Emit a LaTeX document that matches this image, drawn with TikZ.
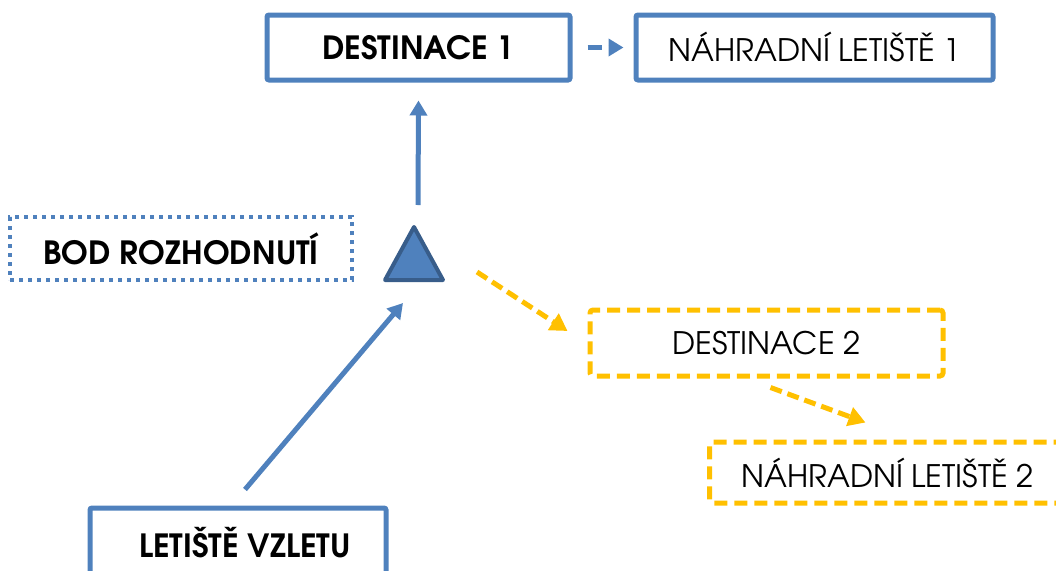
\documentclass[tikz,border=0pt]{standalone}
\usepackage{fontspec}
\setmainfont{TeX Gyre Adventor}
\usetikzlibrary{arrows.meta,calc}
\definecolor{cblue}{HTML}{4F81BD}
\definecolor{cdark}{HTML}{385D8A}
\definecolor{cyel}{HTML}{FFC000}
\tikzset{
  box/.style={draw=cblue, line width=5pt, rounded corners=2pt, inner sep=0pt, font=\fontsize{31}{37}\selectfont},
  boldbox/.style={box, font=\fontsize{32}{38}\selectfont\bfseries},
  dotbox/.style={draw=cblue, line width=4pt, dash pattern=on 4pt off 5pt, inner sep=0pt, font=\fontsize{32}{38}\selectfont\bfseries},
  ybox/.style={draw=cyel, line width=5pt, dash pattern=on 13pt off 7pt, rounded corners=3pt, inner sep=0pt, font=\fontsize{31}{37}\selectfont},
  barrow/.style={draw=cblue, line width=5pt, -{Triangle[length=15pt,width=17pt]}},
  bdarrow/.style={barrow, dash pattern=on 14pt off 7pt},
  yarrow/.style={draw=cyel, line width=5pt, dash pattern=on 12pt off 6pt, -{Triangle[length=17pt,width=19pt]}},
  tri/.style={fill=cblue, draw=cdark, line width=4pt, line join=round}
}
\begin{document}
\begin{tikzpicture}[x=1pt,y=-1pt]
\useasboundingbox (0,0) rectangle (1056,570);
\clip (0,0) rectangle (1056,570);
\node[boldbox, minimum width=303pt, minimum height=65pt] (d1) at (418.5,47.5) {DESTINACE 1};
\node[box, minimum width=357pt, minimum height=65pt] (n1) at (814.5,47.5) {NÁHRADNÍ LETIŠTĚ 1};
\node[dotbox, minimum width=342pt, minimum height=63pt] (bod) at (181,248.5) {BOD ROZHODNUTÍ};
\node[ybox, minimum width=353pt, minimum height=66pt] (d2) at (766.5,343) {DESTINACE 2};
\node[ybox, minimum width=400pt, minimum height=61pt, anchor=west] (n2) at (707,472.5) {\hspace*{28pt}NÁHRADNÍ LETIŠTĚ 2\hspace*{72pt}};
\node[boldbox, minimum width=296pt, minimum height=70pt] (vz) at (238,543) {\hspace*{14pt}LETIŠTĚ VZLETU};
\draw[tri] (414,227) -- (443,280) -- (385,280) -- cycle;
\coordinate (apex) at (414,227);
\coordinate (base) at (414,280);
\draw[bdarrow] ($(d1.east)+(15,0)$) -- ($(n1.west)+(-10,0)$);
\draw[barrow] ($(apex)+(4,-22)$) -- ($(d1.south)+(0,18)$);
\draw[barrow] ($(vz.north)+(7,-16)$) -- ($(base)+(-11,23)$);
\draw[yarrow] ($(apex)+(63,45)$) -- ($(d2.west)+(-20,-12)$);
\draw[yarrow] ($(d2.south)+(4,9)$) -- ($(n2.north)+(-44,-17)$);
\end{tikzpicture}
\end{document}
